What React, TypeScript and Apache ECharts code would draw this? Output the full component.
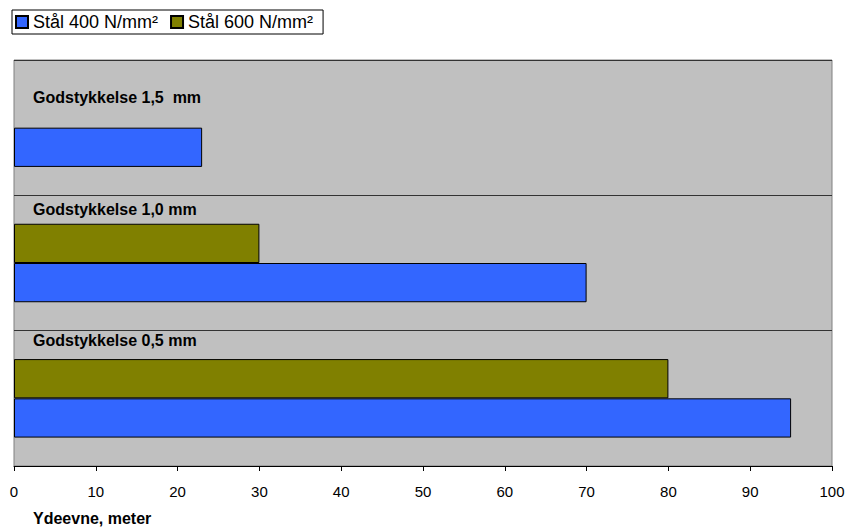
import React, { useEffect, useRef } from "react";
import * as echarts from "echarts";

const categories = ["Godstykkelse 0,5 mm", "Godstykkelse 1,0 mm", "Godstykkelse 1,5  mm"];
const steel400 = [95, 70, 23];
const steel600: (number | null)[] = [80, 30, null];
const seriesNames = ["Stål 400 N/mm²", "Stål 600 N/mm²"];
const xTicks = { min: 0, max: 100, interval: 10 };
const xTitle = "Ydeevne, meter";

const FONT = "'Liberation Sans', Arial, sans-serif";

export default function App() {
  const ref = useRef<HTMLDivElement>(null);
  useEffect(() => {
    const chart = echarts.init(ref.current!, null, { renderer: "svg" });
    chart.setOption({
      animation: false,
      textStyle: { fontFamily: FONT },
      legend: {
        left: 12,
        top: 10,
        padding: [3, 10, 3, 3],
        itemGap: 12,
        itemWidth: 12,
        itemHeight: 12,
        borderColor: "#000",
        borderWidth: 1,
        icon: "rect",
        textStyle: { fontSize: 18, color: "#000", fontFamily: FONT },
        data: seriesNames,
      },
      grid: {
        left: 14,
        right: 16,
        top: 60,
        bottom: 62,
        show: true,
        backgroundColor: "#C0C0C0",
        borderColor: "#808080",
        borderWidth: 1,
        containLabel: false,
      },
      xAxis: {
        type: "value",
        min: xTicks.min,
        max: xTicks.max,
        interval: xTicks.interval,
        axisLine: { show: true, lineStyle: { color: "#000", width: 1 } },
        axisTick: { show: true, length: 5, lineStyle: { color: "#000" } },
        splitLine: { show: false },
        axisLabel: { fontSize: 15, color: "#000", margin: 18, fontFamily: FONT },
      },
      yAxis: {
        type: "category",
        data: categories,
        axisLine: { show: false },
        axisTick: { show: false },
        axisLabel: { show: false },
        splitLine: { show: true, lineStyle: { color: "#333", width: 1 } },
      },
      series: [
        {
          name: seriesNames[1],
          type: "bar",
          data: steel600,
          barGap: "0%",
          barCategoryGap: "42%",
          itemStyle: { color: "#808000", borderColor: "#000", borderWidth: 1 },
        },
        {
          name: seriesNames[0],
          type: "bar",
          data: steel400,
          barGap: "0%",
          barCategoryGap: "42%",
          itemStyle: { color: "#3366FF", borderColor: "#000", borderWidth: 1 },
        },
      ],
      graphic: [
        { type: "text", left: 33, top: 89, style: { text: categories[2], font: `bold 16px ${FONT}`, fill: "#000" } },
        { type: "text", left: 33, top: 201, style: { text: categories[1], font: `bold 16px ${FONT}`, fill: "#000" } },
        { type: "text", left: 33, top: 332, style: { text: categories[0], font: `bold 16px ${FONT}`, fill: "#000" } },
        { type: "text", left: 33, top: 510, style: { text: xTitle, font: `bold 16px ${FONT}`, fill: "#000" } },
      ],
    });
    return () => chart.dispose();
  }, []);
  return <div ref={ref} style={{ width: 848, height: 528, position: "absolute", left: 0, top: 0 }} />;
}
